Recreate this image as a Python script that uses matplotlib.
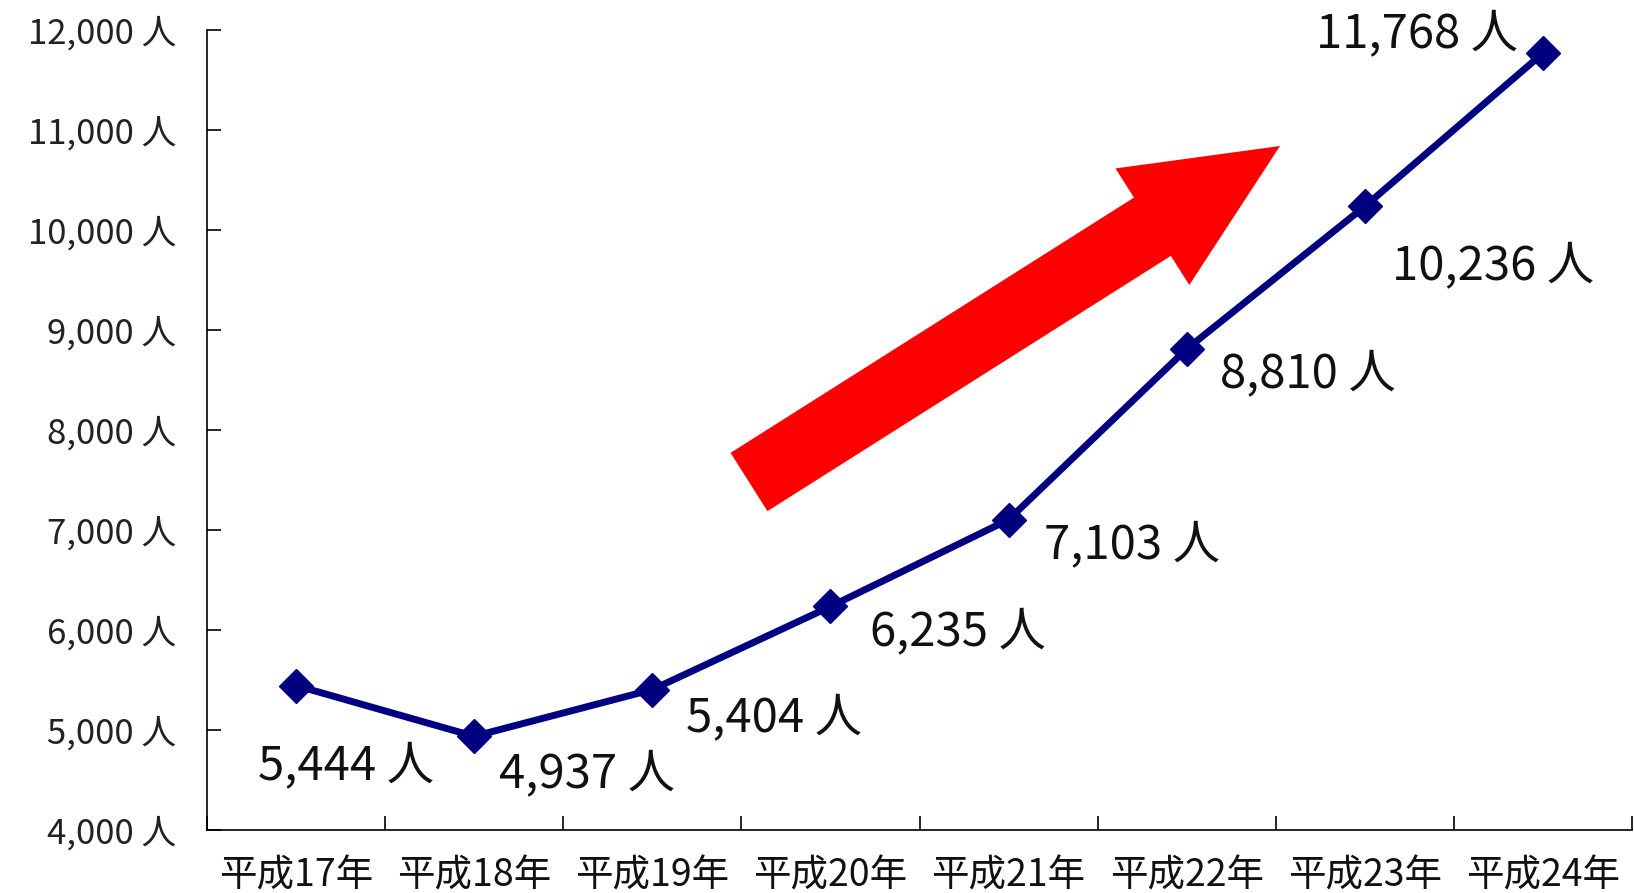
import numpy as np
import matplotlib
matplotlib.use("Agg")
import matplotlib.pyplot as plt
from matplotlib.patches import FancyArrow
from matplotlib.transforms import Affine2D

plt.rcParams['font.family'] = ['Noto Sans CJK JP', 'DejaVu Sans']

# データ
年度 = ['平成17年', '平成18年', '平成19年', '平成20年',
        '平成21年', '平成22年', '平成23年', '平成24年']
人数 = [5444, 4937, 5404, 6235, 7103, 8810, 10236, 11768]
y目盛 = list(range(4000, 12001, 1000))

# ラベルの位置(ピクセル単位のずれ)
ラベル位置 = [(50, -80), (113, -38), (122, -28), (127, -25),
             (123, -25), (121, -25), (128, -60), (-126, 19)]

W, H = 1634, 893
fig = plt.figure(figsize=(W / 100, H / 100), dpi=100)
ax = fig.add_axes([207 / W, (H - 830) / H, 1425 / W, 800 / H])

x = np.arange(len(年度))
ax.plot(x, 人数, color='#000080', lw=5, marker='D', ms=17,
        markerfacecolor='#000080', markeredgecolor='#000080', zorder=3)

for xi, v, (dx, dy) in zip(x, 人数, ラベル位置):
    ax.annotate(f'{v:,} 人', (xi, v), xytext=(dx, dy), textcoords='offset pixels',
                ha='center', va='center', fontsize=34, color='#111111')

ax.set_xlim(-0.5, len(年度) - 0.5)
ax.set_ylim(4000, 12000)
ax.set_yticks(y目盛)
ax.set_yticklabels([f'{v:,} 人' for v in y目盛], fontsize=25, color='#222222')
ax.set_xticks(x)
ax.set_xticklabels(年度, fontsize=27, color='#111111')
ax.set_xticks(np.arange(-0.5, len(年度)), minor=True)
ax.tick_params(axis='x', which='major', length=0, pad=19)
ax.tick_params(axis='x', which='minor', direction='in', length=10, width=1.2)
ax.tick_params(axis='y', direction='in', length=10, width=1.2, pad=22)

for s in ['top', 'right']:
    ax.spines[s].set_visible(False)
for s in ['left', 'bottom']:
    ax.spines[s].set_linewidth(1.2)

# 赤い矢印(画像ピクセル座標)
px = Affine2D().scale(1 / W, -1 / H).translate(0, 1) + fig.transFigure
arrow = FancyArrow(749, 482, 531, -336, width=69, head_width=138, head_length=151,
                   length_includes_head=True, color='#ff0000', lw=0,
                   transform=px, zorder=2)
fig.patches.append(arrow)

fig.savefig('out.png', dpi=100, facecolor='white')
